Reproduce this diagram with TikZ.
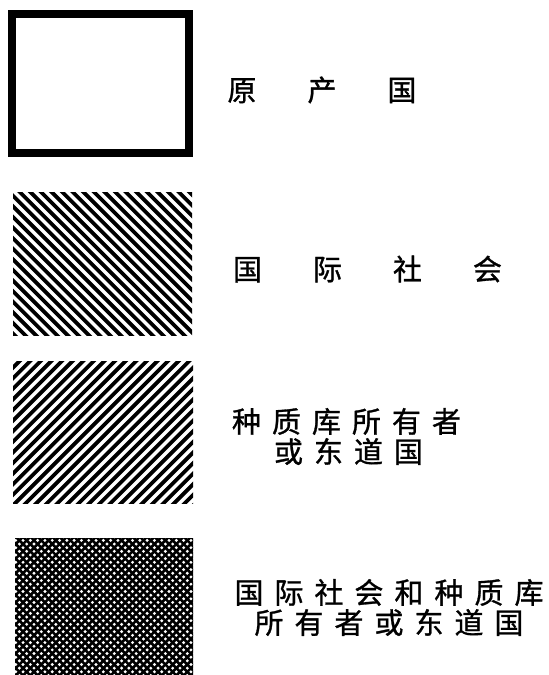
\documentclass[tikz,border=0pt]{standalone}
\usepackage{fontspec}
\usetikzlibrary{calc}
\newfontfamily\cjk[FakeBold=1]{Noto Sans CJK SC}
\newcommand{\widegapx}{\hspace{51pt}}
\newcommand{\narrowgapx}{\hspace{11pt}}
\begin{document}
\begin{tikzpicture}[x=1pt,y=-1pt,
  lbl/.style={font=\cjk\fontsize{29}{30}\selectfont, inner sep=0pt, anchor=center},
  swatch/.style={rectangle, inner sep=0pt},
  hatchdown/.style={path picture={
    \foreach \c in {-300,-289.4,...,300}{\draw[line width=3.8pt] ($(path picture bounding box.north west)+(\c,-10)$) -- ++(260,260);}}},
  hatchup/.style={path picture={
    \foreach \c in {-100,-89.4,...,500}{\draw[line width=3.8pt] ($(path picture bounding box.north west)+(\c,-10)$) -- ++(-260,260);}}},
  crosshatch/.style={path picture={
    \foreach \c in {-300,-292.7,...,300}{\draw[line width=2.6pt] ($(path picture bounding box.north west)+(\c,-10)$) -- ++(260,260);}
    \foreach \c in {-100,-92.7,...,500}{\draw[line width=2.6pt] ($(path picture bounding box.north west)+(\c,-10)$) -- ++(-260,260);}}}
]
\useasboundingbox (0,0) rectangle (549,675);
\fill[white] (0,0) rectangle (549,675);
% swatches
\node[swatch, draw, line width=8pt, minimum width=177pt, minimum height=139pt] (b1) at (100.5,83.5) {};
\node[swatch, hatchdown, minimum width=179pt, minimum height=143pt] (b2) at (102.5,263.5) {};
\node[swatch, hatchup, minimum width=180pt, minimum height=142pt] (b3) at (103,432) {};
\node[swatch, crosshatch, minimum width=178pt, minimum height=137pt] (b4) at (104,606.5) {};
% labels
\node[lbl] (t1) at (322,90) {原\widegapx 产\widegapx 国};
\node[lbl] (t2) at (367.5,269) {国\widegapx 际\widegapx 社\widegapx 会};
\node[lbl] (t3a) at (346.5,421.5) {种\narrowgapx 质\narrowgapx 库\narrowgapx 所\narrowgapx 有\narrowgapx 者};
\node[lbl] (t3b) at (348.5,451.5) {或\narrowgapx 东\narrowgapx 道\narrowgapx 国};
\node[lbl] (t4a) at (389,592.5) {国\narrowgapx 际\narrowgapx 社\narrowgapx 会\narrowgapx 和\narrowgapx 种\narrowgapx 质\narrowgapx 库};
\node[lbl] (t4b) at (389,622.5) {所\narrowgapx 有\narrowgapx 者\narrowgapx 或\narrowgapx 东\narrowgapx 道\narrowgapx 国};
\end{tikzpicture}
\end{document}
